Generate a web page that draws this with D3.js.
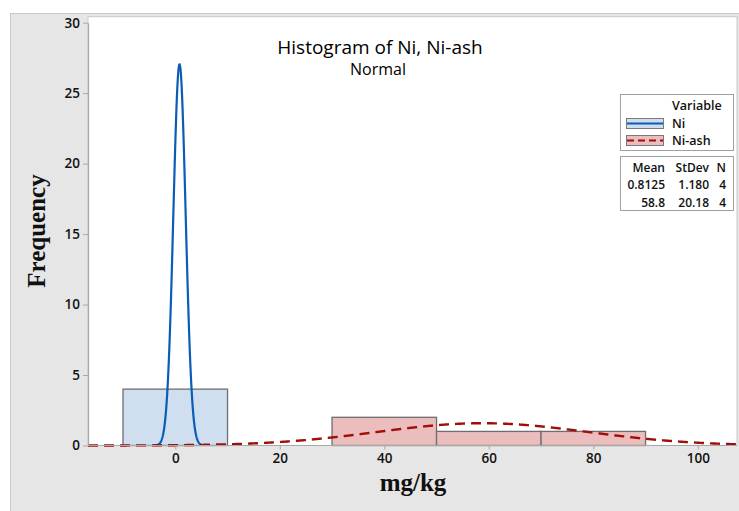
<!DOCTYPE html>
<html>
<head>
<meta charset="utf-8">
<script src="https://cdn.jsdelivr.net/npm/d3@7"></script>
<style>
body { margin: 0; background: #fff; }
svg { display: block; }
</style>
</head>
<body>
<div id="canvas"></div>
<script>
// ----------------------------------------------------------
// DATA -----------------------------------------------------
// ----------------------------------------------------------
var series_names = ["Ni", "Ni-ash"];
var bin_width = 20;
// bin midpoints and counts per series
var ni_bins = [0];
var ni_counts = [4];
var ash_bins = [40, 60, 80];
var ash_counts = [2, 1, 1];
// fitted normal parameters shown in the legend table
var stat_mean = [0.8125, 58.8];
var stat_stdev = [1.180, 20.18];
var stat_n = [4, 4];
var stat_labels = [["0.8125", "1.180", "4"], ["58.8", "20.18", "4"]];
var x_ticks = [0, 20, 40, 60, 80, 100];
var y_ticks = [0, 5, 10, 15, 20, 25, 30];

var colors = {
  frame: "#e6e6e6",
  frame_line: "#c8c8c8",
  ni_fill: "#cfdff0",
  ni_line: "#0a5cb4",
  ash_fill: "#ecbdbd",
  ash_line: "#a00d0d",
  bar_stroke: "#6e6e6e",
  text: "#111"
};
var sans = "'Segoe UI', 'Open Sans', 'Noto Sans', sans-serif";
var serif = "'Liberation Serif', 'Times New Roman', serif";

// ----------------------------------------------------------
// STRUCTURE ------------------------------------------------
// ----------------------------------------------------------
var W = 739, H = 511;
var plot = { left: 88, top: 16.7, right: 737, bottom: 445.5 };

var svg = d3.select("#canvas").append("svg")
  .attr("width", W)
  .attr("height", H)
  .style("background-color", "#fff");

// outer grey frame
svg.append("rect")
  .attr("x", 10.5).attr("y", 13.5)
  .attr("width", W).attr("height", H)
  .attr("fill", colors.frame)
  .attr("stroke", colors.frame_line);

// plot area
svg.append("rect")
  .attr("x", plot.left).attr("y", plot.top)
  .attr("width", plot.right - plot.left).attr("height", plot.bottom - plot.top)
  .attr("fill", "#fff")
  .attr("stroke", colors.frame_line);

var x = d3.scaleLinear().domain([-16.7, 107.5]).range([plot.left, plot.right]);
var y = d3.scaleLinear().domain([0, 30]).range([plot.bottom, 22.7]);

// ----------------------------------------------------------
// BARS -----------------------------------------------------
var gfx = svg.append("g").attr("class", "gfx_group");

function drawBars(mids, counts, fill) {
  gfx.append("g").selectAll("rect")
    .data(mids.map((m, i) => ({ mid: m, count: counts[i] })))
    .enter().append("rect")
    .attr("x", d => x(d.mid - bin_width / 2))
    .attr("y", d => y(d.count))
    .attr("width", d => x(d.mid + bin_width / 2) - x(d.mid - bin_width / 2))
    .attr("height", d => y(0) - y(d.count))
    .attr("fill", fill)
    .attr("stroke", colors.bar_stroke)
    .attr("stroke-width", 1.3);
}
drawBars(ni_bins, ni_counts, colors.ni_fill);
drawBars(ash_bins, ash_counts, colors.ash_fill);

// ----------------------------------------------------------
// FITTED NORMAL CURVES -------------------------------------
// curve of the fitted normal, scaled to counts; lo/hi limit the drawn span
function normalCurve(i, lo, hi) {
  var step = 0.05, pts = [];
  for (var v = lo; v <= hi; v += step) {
    var z = (v - stat_mean[i]) / stat_stdev[i];
    var f = stat_n[i] * bin_width * Math.exp(-0.5 * z * z) / (stat_stdev[i] * Math.sqrt(2 * Math.PI));
    pts.push([v, f]);
  }
  return pts;
}
var line = d3.line().x(d => x(d[0])).y(d => y(d[1]));

gfx.append("path")
  .datum(normalCurve(0, stat_mean[0] - 3.8 * stat_stdev[0], stat_mean[0] + 3.5 * stat_stdev[0]))
  .attr("d", line)
  .attr("fill", "none")
  .attr("stroke", colors.ni_line)
  .attr("stroke-width", 2.2);

gfx.append("path")
  .datum(normalCurve(1, x.domain()[0], x.domain()[1]))
  .attr("d", line)
  .attr("fill", "none")
  .attr("stroke", colors.ash_line)
  .attr("stroke-width", 2.4)
  .attr("stroke-dasharray", "10,6");

// ----------------------------------------------------------
// AXES -----------------------------------------------------
var xAxis = svg.append("g")
  .attr("transform", `translate(0, ${plot.bottom})`)
  .call(d3.axisBottom(x).tickValues(x_ticks).tickSize(4).tickPadding(4).tickSizeOuter(0));
var yAxis = svg.append("g")
  .attr("transform", `translate(${plot.left}, 0)`)
  .call(d3.axisLeft(y).tickValues(y_ticks).tickSize(5).tickPadding(3).tickSizeOuter(0));

[xAxis, yAxis].forEach(a => {
  a.select(".domain").attr("stroke", "#a8a8a8").attr("stroke-width", 1.2);
  a.selectAll(".tick line").attr("stroke", "#a8a8a8");
  a.selectAll(".tick text")
    .attr("fill", colors.text)
    .style("font-family", sans)
    .style("font-weight", 600)
    .style("font-size", "13.5px");
});
// domain path of x axis should span the plot only
xAxis.select(".domain").attr("d", `M${plot.left},0H${plot.right}`);

// axis titles
svg.append("text")
  .attr("x", 413).attr("y", 491)
  .attr("text-anchor", "middle")
  .style("font-family", serif).style("font-weight", "bold").style("font-size", "25px")
  .attr("fill", "#111")
  .text("mg/kg");

svg.append("text")
  .attr("transform", "translate(45, 231) rotate(-90)")
  .attr("text-anchor", "middle")
  .style("font-family", serif).style("font-weight", "bold").style("font-size", "25px")
  .attr("fill", "#111")
  .text("Frequency");

// titles
svg.append("text")
  .attr("x", 380).attr("y", 54)
  .attr("text-anchor", "middle")
  .style("font-family", sans).style("font-size", "19px").style("font-weight", 500)
  .attr("fill", "#000")
  .text("Histogram of Ni, Ni-ash");
svg.append("text")
  .attr("x", 378).attr("y", 75)
  .attr("text-anchor", "middle")
  .style("font-family", sans).style("font-size", "16px").style("font-weight", 500)
  .attr("fill", "#000")
  .text("Normal");

// ----------------------------------------------------------
// LEGEND ---------------------------------------------------
var legend = svg.append("g").attr("class", "legend")
  .style("font-family", sans).style("font-weight", 600);
legend.append("rect")
  .attr("x", 620.5).attr("y", 94.5).attr("width", 113).attr("height", 56)
  .attr("fill", "#fff").attr("stroke", "#a0a0a0");
legend.append("text")
  .attr("x", 672).attr("y", 110)
  .style("font-size", "12.5px").attr("fill", colors.text)
  .text("Variable");

var swFill = [colors.ni_fill, colors.ash_fill];
var swLine = [colors.ni_line, colors.ash_line];
series_names.forEach((name, i) => {
  var yy = 118 + i * 17;
  legend.append("rect")
    .attr("x", 626.5).attr("y", yy + 0.5).attr("width", 37).attr("height", 10)
    .attr("fill", swFill[i]).attr("stroke", "#7a7a7a");
  legend.append("line")
    .attr("x1", 627).attr("x2", 663).attr("y1", yy + 5.5).attr("y2", yy + 5.5)
    .attr("stroke", swLine[i]).attr("stroke-width", 2)
    .attr("stroke-dasharray", i === 1 ? "7,4" : null);
  legend.append("text")
    .attr("x", 672).attr("y", yy + 9.5)
    .style("font-size", "12.5px").attr("fill", colors.text)
    .text(name);
});

legend.append("rect")
  .attr("x", 620.5).attr("y", 156.5).attr("width", 113).attr("height", 54)
  .attr("fill", "#fff").attr("stroke", "#a0a0a0");
var colRight = [665, 709, 726];
["Mean", "StDev", "N"].forEach((h, j) => {
  legend.append("text")
    .attr("x", colRight[j]).attr("y", 172)
    .attr("text-anchor", "end")
    .style("font-size", "12px").attr("fill", colors.text)
    .text(h);
});
stat_labels.forEach((row, i) => {
  row.forEach((v, j) => {
    legend.append("text")
      .attr("x", colRight[j]).attr("y", 189 + i * 18)
      .attr("text-anchor", "end")
      .style("font-size", "12px").attr("fill", colors.text)
      .text(v);
  });
});
</script>
</body>
</html>
